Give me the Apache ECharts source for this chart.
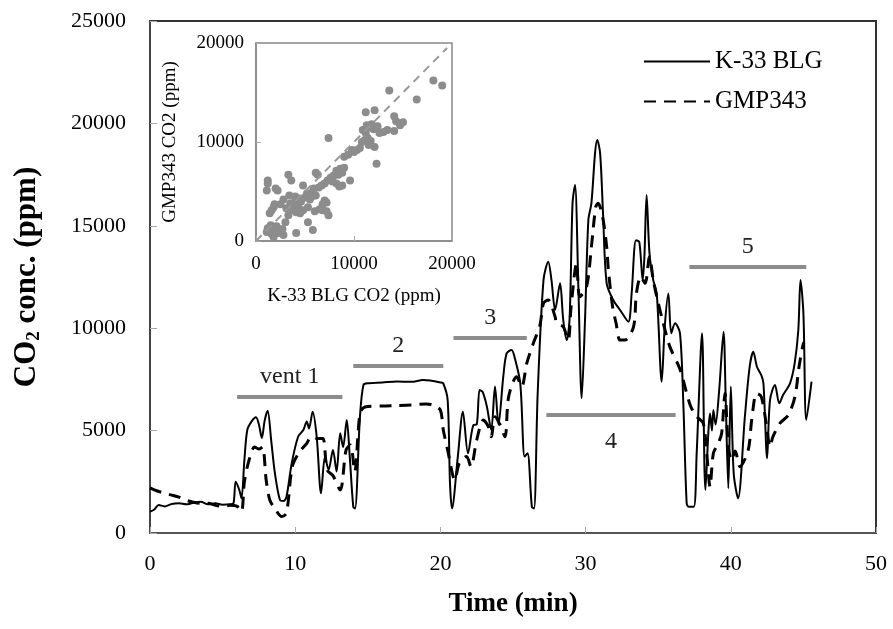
<!DOCTYPE html>
<html>
<head>
<meta charset="utf-8">
<script src="https://cdn.jsdelivr.net/npm/echarts@6/dist/echarts.min.js"></script>
<style>
  html, body { margin: 0; padding: 0; background: #fff; }
  #main { width: 893px; height: 629px; }
</style>
</head>
<body>
<div id="main"></div>
<script>
// K-33 BLG (solid) readings, time in min / CO2 in ppm
var k33Time = [0, 0.3, 0.6, 1.0, 1.5, 2.0, 2.5, 3.0, 3.5, 4.0, 4.5, 5.0, 5.5, 5.75, 5.9, 6.15, 6.3, 6.5, 6.7, 7.0,
  7.3, 7.5, 7.7, 7.9, 8.1, 8.35, 8.6, 8.95, 9.2, 9.4, 9.76, 10.2, 10.56, 10.8, 10.95, 11.2, 11.48, 11.78, 12.05, 12.3,
  12.6, 12.85, 13.1, 13.3, 13.55, 13.75, 14.0, 14.12, 14.46, 14.7, 15.0, 16.0, 17.0, 18.0, 18.8, 19.3, 20.0, 20.2, 20.5, 20.66,
  20.8, 21.2, 21.55, 21.9, 22.27, 22.5, 22.7, 22.9, 23.2, 23.5, 23.76, 24.0, 24.33, 24.56, 24.9, 25.1, 25.5, 25.8, 26.0, 26.3,
  26.45, 26.7, 27.1, 27.43, 27.65, 27.9, 28.24, 28.46, 28.7, 28.9, 29.1, 29.27, 29.5, 29.73, 29.96, 30.19, 30.4, 30.65, 30.8, 31.0,
  31.2, 31.45, 31.9, 32.37, 32.94, 33.17, 33.47, 33.7, 33.93, 34.05, 34.2, 34.4, 34.66, 34.9, 35.24, 35.45, 35.7, 35.9, 36.16, 36.5,
  36.73, 36.96, 37.1, 37.45, 37.65, 38.02, 38.25, 38.57, 38.7, 38.8, 38.95, 39.2, 39.5, 39.65, 39.83, 40.0, 40.2, 40.5, 40.97, 41.3,
  41.55, 41.8, 42.1, 42.25, 42.5, 42.7, 43.04, 43.34, 43.6, 44.08, 44.4, 44.65, 44.8, 45.0, 45.2, 45.56];
var k33Val = [1040, 1150, 1370, 1300, 1420, 1450, 1400, 1480, 1520, 1400, 1450, 1380, 1400, 1450, 2500, 2100, 1700, 3560, 5030, 5450,
  5650, 5300, 4640, 5500, 5970, 4500, 2930, 1610, 1560, 1770, 3400, 4700, 5030, 5440, 5100, 5920, 4700, 1940, 3730, 3080,
  4050, 3000, 4870, 4200, 5520, 3800, 1280, 1200, 5680, 7230, 7310, 7350, 7400, 7380, 7470, 7450, 7350, 7300, 6490, 2430,
  1200, 3730, 5920, 3890, 5270, 5300, 6980, 6900, 6180, 5030, 7150, 5300, 7630, 8770, 8940, 8610, 7310, 3730, 3900, 1280,
  1200, 6820, 12350, 13250, 12350, 10890, 12190, 10400, 9420, 10500, 16100, 16990, 12030, 6580, 10400, 15280, 16100, 18540, 19190, 18540,
  15610, 12190, 11380, 10890, 10320, 11700, 14300, 14200, 12350, 13500, 16500, 13660, 12350, 11700, 7390, 10070, 11700, 9750, 10240, 9750,
  6330, 1450, 1280, 1280, 3890, 9750, 2100, 5840, 5000, 6010, 5300, 6980, 9830, 6500, 2180, 7150, 2910, 1690, 5680, 8120,
  8850, 8120, 7710, 7300, 3650, 6490, 7230, 6330, 6740, 7310, 8290, 9910, 12350, 10730, 5520, 7390];

// GMP343 (dashed) readings
var gmpTime = [0, 0.5, 1.0, 1.5, 2.0, 2.5, 3.0, 3.5, 4.0, 4.5, 5.0, 5.5, 6.0, 6.3, 6.5, 6.8, 7.2, 7.5, 7.75, 8.0,
  8.25, 8.6, 9.07, 9.4, 9.8, 10.3, 10.8, 11.1, 11.5, 11.9, 12.2, 12.6, 13.1, 13.5, 13.8, 14.1, 14.46, 14.8, 16.0, 17.0,
  18.0, 19.0, 19.5, 20.0, 20.2, 20.5, 21.0, 21.3, 21.8, 22.1, 22.5, 22.96, 23.3, 23.5, 23.76, 24.1, 24.45, 24.7, 25.25, 25.6,
  25.95, 26.4, 26.86, 27.1, 27.43, 27.9, 28.0, 28.46, 28.8, 29.0, 29.38, 29.6, 30.07, 30.4, 30.7, 30.86, 31.17, 31.45, 31.57, 31.86,
  32.1, 32.37, 32.7, 33.3, 33.5, 33.8, 34.1, 34.4, 34.66, 34.9, 35.35, 35.8, 36.5, 37.2, 37.65, 38.1, 38.34, 38.57, 38.8, 39.14,
  39.37, 39.6, 39.83, 40.06, 40.3, 40.63, 41.2, 41.44, 41.78, 42.1, 42.47, 42.7, 42.9, 43.39, 43.96, 44.42, 44.7, 45.0, 45.1];
var gmpVal = [2200, 2050, 1940, 1850, 1750, 1600, 1500, 1450, 1450, 1350, 1300, 1350, 1300, 1050, 2500, 3500, 4200, 4100, 4200, 2590,
  1610, 1200, 800, 980, 3240, 3970, 4380, 4700, 4620, 4620, 3080, 2800, 2100, 4050, 4300, 3000, 5840, 6150, 6200, 6220,
  6250, 6300, 6250, 6000, 5030, 4050, 2590, 3400, 3730, 3240, 4540, 5520, 5190, 4700, 5680, 5300, 4700, 6660, 7630, 7150,
  8290, 9260, 10160, 11220, 11380, 10560, 10240, 10070, 9420, 11050, 13170, 11540, 12030, 13980, 15930, 16100, 15440, 13980, 12840, 11050,
  10240, 9420, 9420, 10070, 11700, 12510, 12190, 13490, 12350, 11540, 10240, 9100, 8000, 6250, 5680, 5360, 3890, 2260, 3890, 4380,
  4870, 6820, 4210, 3560, 4000, 3240, 4050, 5520, 6820, 6660, 5190, 4210, 4700, 5360, 5760, 6660, 8120, 9260, 9300];

// ventilation period bars
var ventLabels = ['vent 1', '2', '3', '4', '5'];
var ventStart = [6.0, 14.0, 20.9, 27.3, 37.15];
var ventEnd = [13.25, 20.2, 25.95, 36.2, 45.2];
var ventLevel = [6660, 8150, 9550, 5750, 13000];

// inset scatter: K-33 BLG vs GMP343
var insetX = [18100, 19000, 16400, 13600, 11200, 12100, 14100, 14300, 14700, 14100, 15000,
  11300, 11600, 12000, 10900, 11200, 11800, 12400, 10800, 11100, 11400, 11700, 11500,
  12100, 12300, 12600, 13000, 13400, 7400, 9000, 9400, 9800, 10300, 10600, 10000,
  8600, 8800, 8400, 7900, 7600, 8200, 9000, 9600, 8500, 8800, 8200, 7800,
  6300, 6100, 7000, 7300, 6700, 3300, 3600, 1200, 1200, 1100, 2200, 2000, 4800,
  5200, 5700, 5800, 6100, 5500, 7000, 7200, 6800, 4500, 4200, 3900, 3500, 3100, 3800,
  4500, 4800, 5300, 4300, 4000, 4600, 5000, 3600, 4100, 3300, 1800, 1600, 1400, 1900,
  5300, 5800, 4100, 3000, 2700, 2300, 2800, 1200, 1400, 1600, 1800, 1100, 1900, 2100, 1500,
  6800, 7200, 7400, 6500, 6000, 2500, 2800, 3400, 5900, 6400];
var insetY = [16200, 15700, 14300, 15200, 13000, 13200, 12600, 12100, 11700, 11100, 12000,
  11700, 11500, 11300, 11200, 10900, 11800, 11600, 10000, 10200, 10400, 10100, 9700,
  9500, 7800, 10900, 11000, 11200, 10400, 8500, 8700, 9200, 9200, 9400, 9000,
  7300, 6900, 6700, 6600, 6400, 7100, 7400, 6100, 5500, 5600, 5800, 6000,
  6700, 6900, 5800, 6100, 5600, 6700, 6100, 6100, 5800, 5100, 5100, 5300, 5600,
  4800, 4500, 5000, 4600, 4200, 4100, 3900, 3700, 4300, 4100, 3900, 3800, 3300, 3100,
  2800, 3100, 3400, 3600, 4500, 4000, 4400, 3400, 2900, 2600, 3400, 3100, 2800, 3700,
  1900, 1100, 800, 1900, 1200, 800, 600, 1300, 1000, 700, 400, 900, 900, 1500, 1600,
  3100, 3000, 2600, 3200, 3000, 3700, 4200, 4600, 5300, 5400];
var diagLine = [0, 19500];

var serif = '"Liberation Serif", "Times New Roman", serif';
var plain = function (v) { return String(v); };

var chart = echarts.init(document.getElementById('main'));

var k33Data = k33Time.map(function (t, i) { return [t, k33Val[i]]; });
var gmpData = gmpTime.map(function (t, i) { return [t, gmpVal[i]]; });
var insetData = insetX.map(function (x, i) { return [x, insetY[i]]; });

var barLines = ventLabels.map(function (name, i) {
  return [
    {
      coord: [ventStart[i], ventLevel[i]],
      label: {
        formatter: name,
        position: name === '4' ? 'insideMiddleBottom' : 'insideMiddleTop',
        distance: name === '4' ? 14 : 8
      }
    },
    { coord: [ventEnd[i], ventLevel[i]] }
  ];
});

var option = {
  backgroundColor: '#fff',
  animation: false,
  legend: {
    data: ['K-33 BLG', 'GMP343'],
    orient: 'vertical',
    left: 638,
    top: 44,
    itemWidth: 66,
    itemHeight: 20,
    itemGap: 15,
    itemStyle: { color: 'rgba(0,0,0,0)', borderWidth: 0, opacity: 0 },
    textStyle: { fontFamily: serif, fontSize: 25, color: '#000' }
  },
  grid: [
    { left: 150, top: 21, right: 17, bottom: 96, show: true, borderColor: '#333', borderWidth: 2 },
    { left: 256, top: 43, width: 196, height: 198, show: true, borderColor: '#888', borderWidth: 1.5, backgroundColor: '#fff' }
  ],
  xAxis: [
    {
      gridIndex: 0, type: 'value', min: 0, max: 50, interval: 10,
      name: 'Time (min)', nameLocation: 'middle', nameGap: 58,
      nameTextStyle: { fontFamily: serif, fontSize: 27, fontWeight: 'bold', color: '#000' },
      axisLine: { lineStyle: { color: '#555', width: 2 } },
      axisTick: { inside: true, length: 6, lineStyle: { color: '#aaa' } },
      axisLabel: { fontFamily: serif, fontSize: 22, color: '#000', margin: 20, formatter: plain },
      splitLine: { show: false }
    },
    {
      gridIndex: 1, type: 'value', min: 0, max: 20000, interval: 10000,
      name: 'K-33 BLG CO2 (ppm)', nameLocation: 'middle', nameGap: 46,
      nameTextStyle: { fontFamily: serif, fontSize: 19, color: '#000' },
      axisLine: { lineStyle: { color: '#888', width: 1.5 } },
      axisTick: { inside: true, length: 5, lineStyle: { color: '#aaa' } },
      axisLabel: { fontFamily: serif, fontSize: 19, color: '#000', margin: 14, formatter: plain },
      splitLine: { show: false }
    }
  ],
  yAxis: [
    {
      gridIndex: 0, type: 'value', min: 0, max: 25000, interval: 5000,
      name: '{a|CO}{b|2}{a| conc. (ppm)}', nameLocation: 'middle', nameGap: 106, nameRotate: 90,
      nameTextStyle: {
        rich: {
          a: { fontFamily: serif, fontSize: 31, fontWeight: 'bold', color: '#000', lineHeight: 34 },
          b: { fontFamily: serif, fontSize: 19, fontWeight: 'bold', color: '#000', lineHeight: 18, verticalAlign: 'bottom' }
        }
      },
      axisLine: { show: true, lineStyle: { color: '#444', width: 2 } },
      axisTick: { show: true, inside: true, length: 7, lineStyle: { color: '#aaa' } },
      axisLabel: { fontFamily: serif, fontSize: 22, color: '#000', margin: 24, formatter: plain },
      splitLine: { show: false }
    },
    {
      gridIndex: 1, type: 'value', min: 0, max: 20000, interval: 10000,
      name: 'GMP343 CO2 (ppm)', nameLocation: 'middle', nameGap: 76, nameRotate: 90,
      nameTextStyle: { fontFamily: serif, fontSize: 19, color: '#000' },
      axisLine: { show: true, lineStyle: { color: '#888', width: 1.5 } },
      axisTick: { show: true, inside: true, length: 5, lineStyle: { color: '#aaa' } },
      axisLabel: { fontFamily: serif, fontSize: 19, color: '#000', margin: 12, formatter: plain },
      splitLine: { show: false }
    }
  ],
  series: [
    {
      name: 'bars', type: 'line', xAxisIndex: 0, yAxisIndex: 0, data: [],
      silent: true,
      markLine: {
        silent: true, symbol: 'none',
        lineStyle: { color: '#8c8c8c', width: 4, type: 'solid' },
        label: { fontFamily: serif, fontSize: 24, color: '#222' },
        data: barLines
      }
    },
    {
      name: 'GMP343', type: 'line', xAxisIndex: 0, yAxisIndex: 0,
      data: gmpData, showSymbol: false, symbol: 'none', smooth: 0.3,
      lineStyle: { color: '#000', width: 3, type: [12, 8] },
      itemStyle: { color: '#000' }
    },
    {
      name: 'K-33 BLG', type: 'line', xAxisIndex: 0, yAxisIndex: 0,
      data: k33Data, showSymbol: false, symbol: 'none', smooth: 0.3,
      lineStyle: { color: '#000', width: 2 },
      itemStyle: { color: '#000' }
    },
    {
      name: 'inset', type: 'scatter', xAxisIndex: 1, yAxisIndex: 1,
      data: insetData, symbolSize: 8,
      itemStyle: { color: '#8c8c8c', opacity: 1 }
    },
    {
      name: '1:1', type: 'line', xAxisIndex: 1, yAxisIndex: 1,
      data: [[diagLine[0], diagLine[0]], [diagLine[1], diagLine[1]]],
      showSymbol: false, symbol: 'none',
      lineStyle: { color: '#999', width: 2, type: [8, 6] }
    }
  ]
};

chart.setOption(option);
</script>
</body>
</html>
